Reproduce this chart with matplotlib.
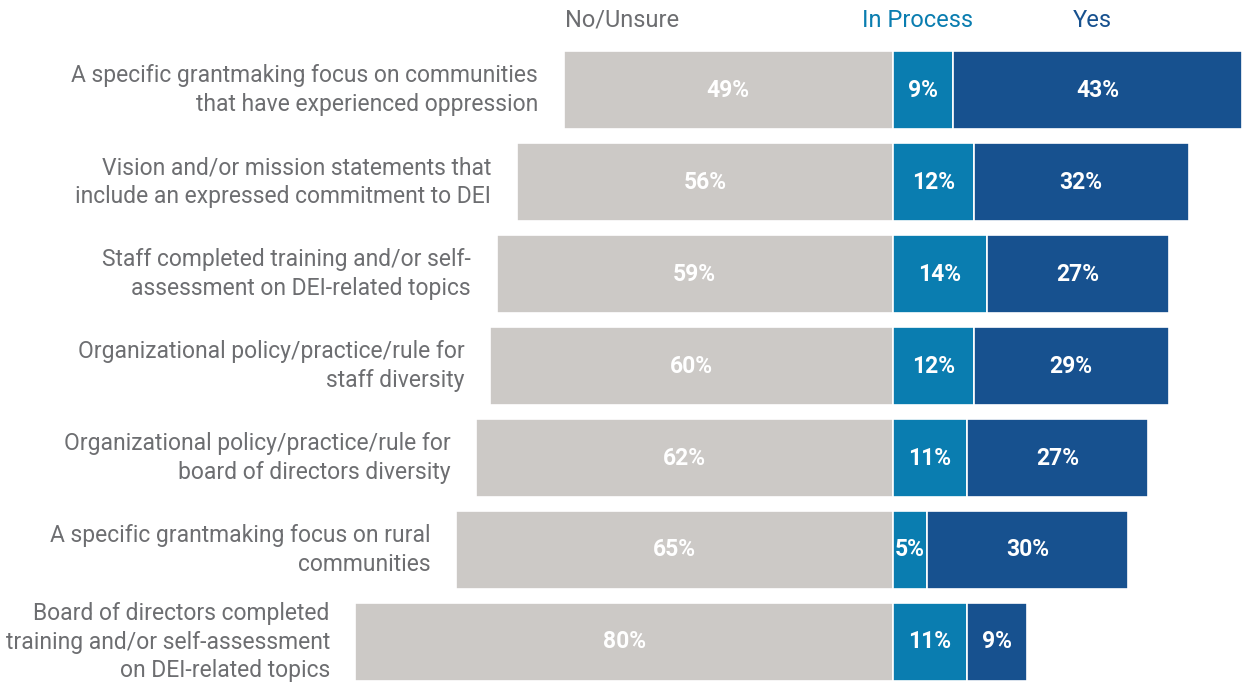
import matplotlib.pyplot as plt

## DATA

categories = [
    "A specific grantmaking focus on communities\nthat have experienced oppression",
    "Vision and/or mission statements that\ninclude an expressed commitment to DEI",
    "Staff completed training and/or self-\nassessment on DEI-related topics",
    "Organizational policy/practice/rule for\nstaff diversity",
    "Organizational policy/practice/rule for\nboard of directors diversity",
    "A specific grantmaking focus on rural\ncommunities",
    "Board of directors completed\ntraining and/or self-assessment\non DEI-related topics",
]
no_unsure = [49, 56, 59, 60, 62, 65, 80]
in_process = [9, 12, 14, 12, 11, 5, 11]
yes = [43, 32, 27, 29, 27, 30, 9]
series_names = ["No/Unsure", "In Process", "Yes"]

## STYLE

gray = "#CCC9C6"
blue_light = "#0A7DB0"
blue_dark = "#17518F"
text_gray = "#6D6E71"
plt.rcParams['font.family'] = ['Roboto', 'DejaVu Sans']

## PLOTTING

fig = plt.figure(figsize=(12.44, 6.86), dpi=100)
ax = fig.add_axes([0, 0, 1, 1])
px = 6.72  # pixels per percent
ax.set_xlim(-893 / px, (1244 - 893) / px)
ax.set_ylim(6 + 44 / 92, -90 / 92)
ax.axis('off')

rows = range(len(categories))
h = 0.84
ax.barh(rows, [-v for v in no_unsure], height=h, color=gray, edgecolor='white', linewidth=1.2)
ax.barh(rows, in_process, height=h, color=blue_light, edgecolor='white', linewidth=1.2)
ax.barh(rows, yes, left=in_process, height=h, color=blue_dark, edgecolor='white', linewidth=1.2)

for i in rows:
    ax.text(-no_unsure[i] / 2, i, f"{no_unsure[i]}%", color='white', fontsize=16.5,
            fontweight='bold', ha='center', va='center')
    ax.text(in_process[i] / 2, i, f"{in_process[i]}%", color='white', fontsize=16.5,
            fontweight='bold', ha='center', va='center')
    ax.text(in_process[i] + yes[i] / 2, i, f"{yes[i]}%", color='white', fontsize=16.5,
            fontweight='bold', ha='center', va='center')
    ax.text(-no_unsure[i] - 3.8, i, categories[i], color=text_gray, fontsize=16.5,
            ha='right', va='center', linespacing=1.32)

# column headers
hy = -0.76
ax.text(-40.3, hy, series_names[0], color=text_gray, fontsize=17, ha='center', va='center')
ax.text(3.6, hy, series_names[1], color=blue_light, fontsize=17, ha='center', va='center')
ax.text(29.7, hy, series_names[2], color=blue_dark, fontsize=17, ha='center', va='center')

fig.savefig('out.png', dpi=100)
